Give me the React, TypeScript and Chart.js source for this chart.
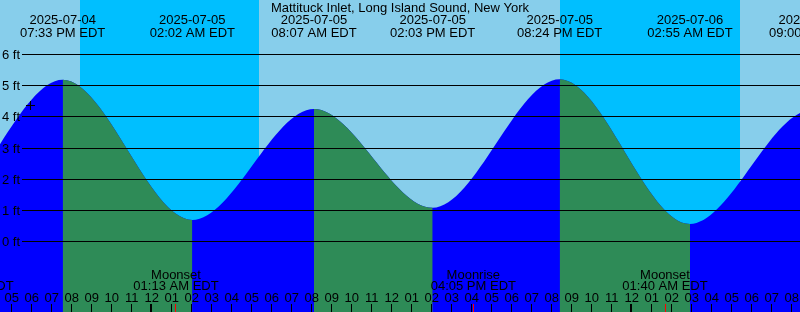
import React, { useEffect, useRef } from 'react';
import { Chart, registerables } from 'chart.js';

Chart.register(...registerables);

// ---------- data ----------
const stationTitle = 'Mattituck Inlet, Long Island Sound, New York';
const timeZoneLabel = 'EDT';
const referenceMidnight = '2025-07-05T00:00';
const windowStart = '2025-07-04T16:25';
const windowEnd = '2025-07-06T08:25';

const tideTimes = [
  '2025-07-04T07:12',
  '2025-07-04T13:20',
  '2025-07-04T19:33',
  '2025-07-05T02:02',
  '2025-07-05T08:07',
  '2025-07-05T14:03',
  '2025-07-05T20:24',
  '2025-07-06T02:55',
  '2025-07-06T09:00',
  '2025-07-06T15:00',
];
const tideHeights = [4.3, 1.1, 5.17, 0.68, 4.24, 1.07, 5.19, 0.55, 4.2, 1.0];

const nowTime = '2025-07-04T17:56';
const nowHeight = 4.35;

const nightStarts = ['2025-07-04T20:25', '2025-07-05T20:25'];
const nightEnds = ['2025-07-05T05:22', '2025-07-06T05:25'];

const moonTimes = ['2025-07-04T14:58', '2025-07-05T01:13', '2025-07-05T16:05', '2025-07-06T01:40'];
const moonEvents = ['Moonrise', 'Moonset', 'Moonrise', 'Moonset'];

const heightTicks = [0, 1, 2, 3, 4, 5, 6];
const heightUnit = 'ft';
const heightMin = -2.27;
const heightMax = 7.73;

// ---------- style ----------
const DAY = '#87CEEB';
const NIGHT = '#00BFFF';
const FLOOD = '#0000FF';
const EBB = '#2E8B57';
const FONT = '13px "Liberation Sans", Arial, Helvetica, sans-serif';

function toMinutesUTC(s: string): number {
  const [d, t] = s.split('T');
  const [Y, M, D] = d.split('-').map(Number);
  const [h, m] = t.split(':').map(Number);
  return Date.UTC(Y, M - 1, D, h, m) / 60000;
}
function hrs(s: string): number {
  return (toMinutesUTC(s) - toMinutesUTC(referenceMidnight)) / 60;
}
function fmtTime(s: string): string {
  const t = s.split('T')[1];
  const [h, m] = t.split(':').map(Number);
  const ap = h >= 12 ? 'PM' : 'AM';
  const h12 = h % 12 === 0 ? 12 : h % 12;
  return `${String(h12).padStart(2, '0')}:${String(m).padStart(2, '0')} ${ap} ${timeZoneLabel}`;
}

const xtidePlugin = {
  id: 'xtideDecor',
  beforeDatasetsDraw(chart: any) {
    const { ctx, chartArea: a, scales } = chart;
    const x = scales.x;
    ctx.save();
    ctx.fillStyle = DAY;
    ctx.fillRect(a.left, a.top, a.right - a.left, a.bottom - a.top);
    ctx.fillStyle = NIGHT;
    nightStarts.forEach((s, i) => {
      const x0 = Math.round(x.getPixelForValue(hrs(s)));
      const x1 = Math.round(x.getPixelForValue(hrs(nightEnds[i])));
      ctx.fillRect(x0, a.top, x1 - x0, a.bottom - a.top);
    });
    ctx.restore();
  },
  afterDatasetsDraw(chart: any) {
    const { ctx, chartArea: a, scales } = chart;
    const x = scales.x;
    const y = scales.y;
    ctx.save();
    ctx.font = FONT;
    ctx.fillStyle = '#000';
    ctx.strokeStyle = '#000';
    ctx.lineWidth = 1;
    ctx.textBaseline = 'alphabetic';

    // height grid lines and labels
    heightTicks.forEach((v) => {
      const py = Math.round(y.getPixelForValue(v)) + 0.5;
      ctx.beginPath();
      ctx.moveTo(22, py);
      ctx.lineTo(a.right, py);
      ctx.stroke();
      ctx.textAlign = 'left';
      ctx.fillText(`${v} ${heightUnit}`, 2, py + 4.5);
    });

    // current-time marker
    const mx = Math.round(x.getPixelForValue(hrs(nowTime))) + 0.5;
    const my = Math.round(y.getPixelForValue(nowHeight)) + 0.5;
    ctx.beginPath();
    ctx.moveTo(mx - 4.5, my);
    ctx.lineTo(mx + 4.5, my);
    ctx.moveTo(mx, my - 4.5);
    ctx.lineTo(mx, my + 4.5);
    ctx.stroke();

    // title
    ctx.textAlign = 'center';
    ctx.fillText(stationTitle, (a.left + a.right) / 2, 12);

    // extreme labels
    tideTimes.forEach((s) => {
      const px = x.getPixelForValue(hrs(s));
      ctx.fillText(s.split('T')[0], px, 24);
      ctx.fillText(fmtTime(s), px, 37);
    });

    // moon labels
    moonTimes.forEach((s, i) => {
      const px = x.getPixelForValue(hrs(s));
      ctx.fillText(moonEvents[i], px, 279);
      ctx.fillText(fmtTime(s), px, 290);
    });

    // hour ticks and labels
    const h0 = Math.ceil(hrs(windowStart));
    const h1 = Math.floor(hrs(windowEnd));
    for (let h = h0; h <= h1; h++) {
      const px = x.getPixelForValue(h);
      const hod = ((h % 24) + 24) % 24;
      const h12 = hod % 12 === 0 ? 12 : hod % 12;
      ctx.fillStyle = '#000';
      ctx.fillText(String(h12).padStart(2, '0'), px, 302);
      const col = Math.floor(px);
      if (hod === 0) ctx.fillRect(col - 1, 304, 2, 8);
      else ctx.fillRect(col, 304, 1, 8);
    }
    ctx.fillStyle = '#FF0000';
    moonTimes.forEach((s) => {
      const col = Math.floor(x.getPixelForValue(hrs(s)));
      ctx.fillRect(col, 304, 1, 8);
    });
    ctx.restore();
  },
};

export default function App() {
  const ref = useRef<HTMLCanvasElement | null>(null);
  useEffect(() => {
    if (!ref.current) return;
    const tideData = tideTimes.map((t, i) => ({ x: hrs(t), y: tideHeights[i] }));
    const chart = new Chart(ref.current, {
      type: 'line',
      data: {
        datasets: [
          {
            // ebb overlay: green where the tide is falling
            data: tideData,
            fill: 'start',
            borderWidth: 0,
            borderColor: 'rgba(0,0,0,0)',
            backgroundColor: EBB,
            pointRadius: 0,
            cubicInterpolationMode: 'monotone',
            capBezierPoints: false,
            segment: {
              backgroundColor: (c: any) => (c.p1.parsed.y > c.p0.parsed.y ? 'rgba(0,0,0,0)' : EBB),
            },
            order: 0,
          } as any,
          {
            // whole water body in flood colour
            data: tideData,
            fill: 'start',
            borderWidth: 0,
            borderColor: 'rgba(0,0,0,0)',
            backgroundColor: FLOOD,
            pointRadius: 0,
            cubicInterpolationMode: 'monotone',
            capBezierPoints: false,
            order: 1,
          } as any,
        ],
      },
      options: {
        responsive: false,
        animation: false,
        devicePixelRatio: 1,
        layout: { padding: 0, autoPadding: false },
        events: [],
        plugins: { legend: { display: false }, tooltip: { enabled: false }, title: { display: false } },
        scales: {
          x: { type: 'linear', min: hrs(windowStart), max: hrs(windowEnd), display: false },
          y: { type: 'linear', min: heightMin, max: heightMax, display: false },
        },
      },
      plugins: [xtidePlugin],
    });
    return () => chart.destroy();
  }, []);
  return (
    <div style={{ position: 'fixed', left: 0, top: 0, width: 800, height: 312 }}>
      <canvas ref={ref} width={800} height={312} style={{ display: 'block', width: 800, height: 312 }} />
    </div>
  );
}
